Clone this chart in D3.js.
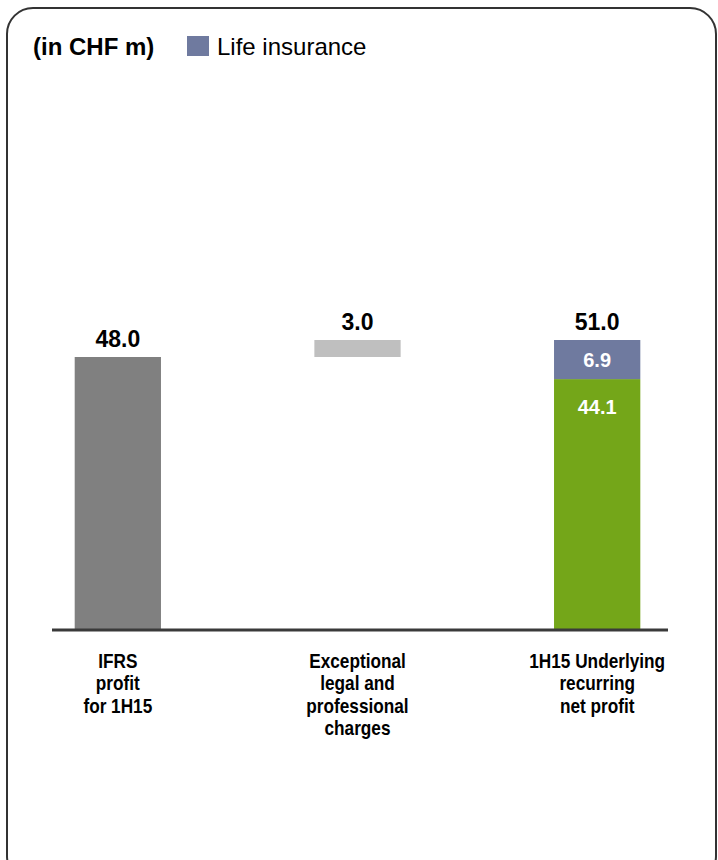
<!DOCTYPE html>
<html>
<head>
<meta charset="utf-8">
<script src="https://cdn.jsdelivr.net/npm/d3@7"></script>
<style>
  body { margin: 0; background: #fff; }
  svg { display: block; font-family: "Liberation Sans", Arial, sans-serif; }
</style>
</head>
<body>
<svg id="chart"></svg>
<script>
// values in CHF m
const categories = ["ifrs", "exceptional", "underlying"];
const categoryLabels = [
  ["IFRS", "profit", "for 1H15"],
  ["Exceptional", "legal and", "professional", "charges"],
  ["1H15 Underlying", "recurring", "net profit"]
];
const ifrsProfit = 48.0;
const exceptionalCharges = 3.0;
const underlyingOther = 44.1;
const underlyingLife = 6.9;
const totalLabels = ["48.0", "3.0", "51.0"];

const width = 718, height = 860;
const baseline = 629;

const svg = d3.select("#chart").attr("width", width).attr("height", height);

// rounded frame
svg.append("rect")
  .attr("x", 7).attr("y", 8)
  .attr("width", 709).attr("height", 874)
  .attr("rx", 26).attr("ry", 26)
  .attr("fill", "none")
  .attr("stroke", "#333")
  .attr("stroke-width", 2);

// unit header + legend
svg.append("text")
  .attr("x", 33).attr("y", 55)
  .attr("font-size", 24).attr("font-weight", "bold")
  .text("(in CHF m)");
svg.append("rect")
  .attr("x", 187).attr("y", 36).attr("width", 22).attr("height", 20)
  .attr("fill", "#6f7a9f");
svg.append("text")
  .attr("x", 217).attr("y", 55)
  .attr("font-size", 24)
  .text("Life insurance");

const x = d3.scaleBand()
  .domain(categories)
  .range([-2, 717])
  .paddingInner(0.64)
  .paddingOuter(0.32);

const y = d3.scaleLinear()
  .domain([0, 51])
  .range([baseline, 340]);

const g = svg.append("g");

// IFRS profit
g.append("rect")
  .attr("x", x("ifrs")).attr("width", x.bandwidth())
  .attr("y", y(ifrsProfit)).attr("height", y(0) - y(ifrsProfit))
  .attr("fill", "#808080");

// exceptional charges (floating)
const top2 = ifrsProfit + exceptionalCharges;
g.append("rect")
  .attr("x", x("exceptional")).attr("width", x.bandwidth())
  .attr("y", y(top2)).attr("height", y(ifrsProfit) - y(top2))
  .attr("fill", "#bfbfbf");

// underlying: stacked
g.append("rect")
  .attr("x", x("underlying")).attr("width", x.bandwidth())
  .attr("y", y(underlyingOther)).attr("height", y(0) - y(underlyingOther))
  .attr("fill", "#74a619");
const total = underlyingOther + underlyingLife;
g.append("rect")
  .attr("x", x("underlying")).attr("width", x.bandwidth())
  .attr("y", y(total)).attr("height", y(underlyingOther) - y(total))
  .attr("fill", "#6f7a9f");

// totals above bars
const tops = [ifrsProfit, top2, total];
g.selectAll(".total")
  .data(categories)
  .join("text")
  .attr("class", "total")
  .attr("x", d => x(d) + x.bandwidth() / 2)
  .attr("y", (d, i) => y(tops[i]) - 10)
  .attr("text-anchor", "middle")
  .attr("font-size", 23).attr("font-weight", "bold")
  .text((d, i) => totalLabels[i]);

// inner labels
const cx3 = x("underlying") + x.bandwidth() / 2;
g.append("text")
  .attr("x", cx3).attr("y", (y(total) + y(underlyingOther)) / 2 + 7)
  .attr("text-anchor", "middle").attr("fill", "#fff")
  .attr("font-size", 20).attr("font-weight", "bold")
  .text(underlyingLife.toFixed(1));
g.append("text")
  .attr("x", cx3).attr("y", y(underlyingOther) + 35)
  .attr("text-anchor", "middle").attr("fill", "#fff")
  .attr("font-size", 20).attr("font-weight", "bold")
  .text(underlyingOther.toFixed(1));

// baseline
svg.append("line")
  .attr("x1", 52).attr("x2", 668)
  .attr("y1", baseline + 1).attr("y2", baseline + 1)
  .attr("stroke", "#3a3a3a").attr("stroke-width", 3);

// category labels (narrow bold face, squeezed horizontally)
const labels = g.selectAll(".cat")
  .data(categories)
  .join("text")
  .attr("class", "cat")
  .attr("transform", d => `translate(${x(d) + x.bandwidth() / 2},0) scale(0.82,1)`)
  .attr("text-anchor", "middle")
  .attr("font-size", 21).attr("font-weight", "bold");
labels.each(function (d, i) {
  d3.select(this).selectAll("tspan")
    .data(categoryLabels[i])
    .join("tspan")
    .attr("x", 0)
    .attr("y", (t, j) => 668 + j * 22.5)
    .text(t => t);
});
</script>
</body>
</html>
